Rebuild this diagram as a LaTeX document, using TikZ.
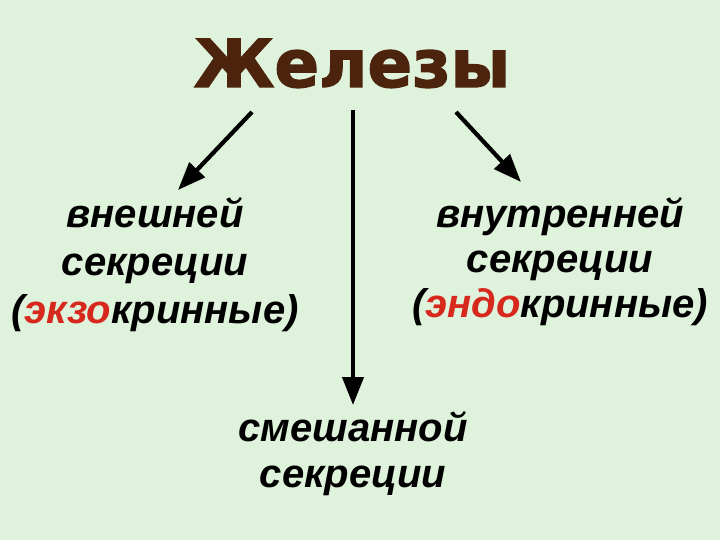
\documentclass[tikz,border=0pt]{standalone}
\usepackage{fontspec}
\setmainfont{Liberation Sans}
\newfontfamily\titlefont{DejaVu Sans}[UprightFont={* Bold},FakeBold=2]
\usetikzlibrary{arrows.meta}
\definecolor{mint}{RGB}{223,242,219}
\definecolor{brownish}{RGB}{76,36,14}
\definecolor{redword}{RGB}{214,40,28}

\begin{document}
\begin{tikzpicture}[x=1pt,y=-1pt]
% Two styles: words and arrows
\tikzstyle{word node}=[inner sep=0,align=center,anchor=north,font=\fontsize{40}{48}\selectfont\bfseries\itshape];
\tikzstyle{arrow line}=[line width=4.2pt,-{Triangle[length=28pt,width=21pt]}];
% Background
\fill[mint](0,0)rectangle(720,540);
\useasboundingbox(0,0)rectangle(720,540);
% The title
\node(glands)[anchor=base,inner sep=0,text=brownish,font=\fontsize{66}{66}\selectfont\titlefont]at(352,87){Железы};
% The three kinds
\node(exo)[word node]at(155,197){внешней\\секреции\\(\textcolor{redword}{экзо}кринные)};
\node(endo)[word node,font=\fontsize{40}{45}\selectfont\bfseries\itshape]at(560,197){внутренней\\секреции\\(\textcolor{redword}{эндо}кринные)};
\node(mixed)[word node,font=\fontsize{40}{46}\selectfont\bfseries\itshape]at(353,411){смешанной\\секреции};
% Arrows
\coordinate(exo-top)at(252,112);
\coordinate(exo-tip)at(178,190);
\coordinate(mixed-top)at(353,110);
\coordinate(mixed-tip)at(353,405);
\coordinate(endo-top)at(456,112);
\coordinate(endo-tip)at(521,182);
\foreach \k in {exo,mixed,endo}
\draw[arrow line](\k-top)--(\k-tip);
\end{tikzpicture}
\end{document}
